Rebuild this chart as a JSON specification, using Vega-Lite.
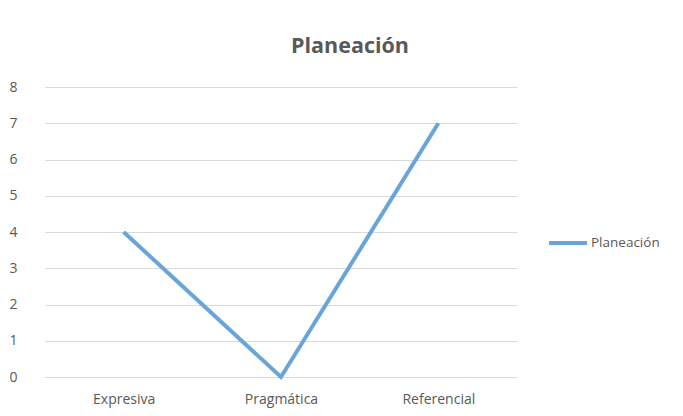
{
  "$schema": "https://vega.github.io/schema/vega-lite/v6.json",
  "autosize": "none",
  "width": 472,
  "height": 290,
  "padding": {"left": 45, "top": 87, "right": 166, "bottom": 39},
  "background": "white",
  "title": {
    "text": "Planeación",
    "font": "Open Sans",
    "fontSize": 21.5,
    "fontWeight": "bold",
    "color": "#595959",
    "anchor": "middle",
    "dx": 69,
    "offset": 23
  },
  "data": {
    "values": [
      {"categoria": "Expresiva", "valor": 4, "serie": "Planeación"},
      {"categoria": "Pragmática", "valor": 0, "serie": "Planeación"},
      {"categoria": "Referencial", "valor": 7, "serie": "Planeación"}
    ]
  },
  "mark": {"type": "line", "strokeWidth": 4, "strokeCap": "butt"},
  "encoding": {
    "x": {
      "field": "categoria",
      "type": "nominal",
      "sort": null,
      "scale": {"type": "point", "padding": 0.5},
      "axis": {
        "title": null,
        "labelAngle": 0,
        "labelFont": "Open Sans",
        "labelFontSize": 14,
        "labelColor": "#595959",
        "labelPadding": 15,
        "ticks": false,
        "domain": true,
        "domainColor": "#d9d9d9",
        "grid": false
      }
    },
    "y": {
      "field": "valor",
      "type": "quantitative",
      "scale": {"domain": [0, 8], "nice": false},
      "axis": {
        "title": null,
        "values": [0, 1, 2, 3, 4, 5, 6, 7, 8],
        "labelFont": "Open Sans",
        "labelFontSize": 14,
        "labelColor": "#595959",
        "labelPadding": 32,
        "labelAlign": "center",
        "ticks": false,
        "domain": false,
        "grid": true,
        "gridColor": "#d9d9d9",
        "gridWidth": 1
      }
    },
    "color": {
      "field": "serie",
      "type": "nominal",
      "scale": {"range": ["#69a5d9"]},
      "legend": {
        "title": null,
        "orient": "none",
        "legendX": 502,
        "legendY": 135,
        "symbolType": "stroke",
        "symbolSize": 1444,
        "symbolStrokeWidth": 4,
        "labelFont": "Open Sans",
        "labelFontSize": 13.5,
        "labelColor": "#595959",
        "labelOffset": 2
      }
    }
  },
  "config": {"view": {"stroke": null}}
}
